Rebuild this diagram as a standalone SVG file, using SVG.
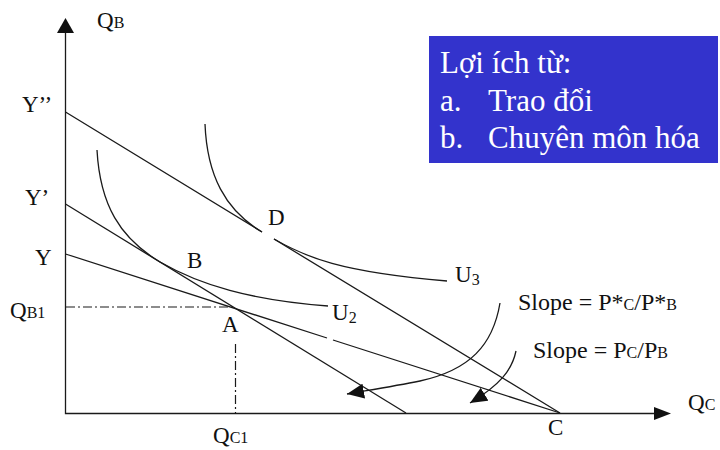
<svg xmlns="http://www.w3.org/2000/svg" width="720" height="450" viewBox="0 0 720 450">
<style>
.ln{fill:none;stroke:#1a1a1a;stroke-width:1.3}
.dd{fill:none;stroke:#1a1a1a;stroke-width:1.2;stroke-dasharray:9 3 2 3}
.t{font-family:"Liberation Serif","Times New Roman",serif;font-size:23px;fill:#111}
.s{font-size:16px}
.sl{font-size:24px}
.bx{font-family:"Liberation Serif","Times New Roman",serif;font-size:31px;fill:#fff}
</style>
<defs>
<marker id="ah" viewBox="0 0 17 15" refX="17" refY="7.5" markerWidth="17" markerHeight="15" markerUnits="userSpaceOnUse" orient="auto">
<path d="M0,0 L17,7.5 L0,15 z" fill="#111"/>
</marker>
</defs>
<rect width="720" height="450" fill="#fff"/>
<g id="axes">
<path class="ln" d="M65.5,33 V413.5 H655"/>
<polygon points="65.5,18 57,33 74,33" fill="#111"/>
<polygon points="671,413.5 654,407 654,420" fill="#111"/>
<text class="t" x="97" y="28">Q<tspan class="s">B</tspan></text>
<text class="t" x="688" y="410">Q<tspan class="s">C</tspan></text>
</g>
<g id="connectors">
<path class="ln" d="M65.5,112 L262,232 M274,239 L560,413"/>
<path class="ln" d="M65.5,204 L406,413"/>
<path class="ln" d="M65.5,254 L327,338 M333,340 L560,413"/>
<path class="dd" d="M66,307 H233"/>
<path class="dd" d="M235.5,344 V413"/>
<path class="ln" d="M500,303 C493,345 470,370 420,381 C395,386 370,390 347,394" marker-end="url(#ah)"/>
<path class="ln" d="M516,351 C512,370 500,385 470,403" marker-end="url(#ah)"/>
</g>
<g id="U2">
<path class="ln" d="M97,150 C100,205 120,238 160,262 C200,285 250,300 328,306"/>
<text class="t" x="332" y="320">U<tspan class="s" dy="3">2</tspan></text>
</g>
<g id="U3">
<path class="ln" d="M205,124 C207,175 225,210 262,232"/>
<path class="ln" d="M274,239 C305,257 340,272 447,281"/>
<text class="t" x="455" y="282">U<tspan class="s" dy="3">3</tspan></text>
</g>
<g id="labels">
<text class="t" x="22" y="112">Y’’</text>
<text class="t" x="25" y="205">Y’</text>
<text class="t" x="35" y="265">Y</text>
<text class="t" x="10" y="318">Q<tspan class="s">B1</tspan></text>
<text class="t" x="213" y="443">Q<tspan class="s">C1</tspan></text>
<text class="t" x="222" y="332">A</text>
<text class="t" x="187" y="268">B</text>
<text class="t" x="268" y="225">D</text>
<text class="t" x="548" y="435">C</text>
<text class="t sl" x="518" y="310">Slope = P*<tspan class="s">C</tspan>/P*<tspan class="s">B</tspan></text>
<text class="t sl" x="533" y="358">Slope = P<tspan class="s">C</tspan>/P<tspan class="s">B</tspan></text>
</g>
<g id="benefits">
<rect x="429" y="36" width="289" height="127" fill="#3333cc"/>
<text class="bx" x="440" y="73">Lợi ích từ:</text>
<text class="bx" x="440" y="111">a.</text>
<text class="bx" x="488" y="111">Trao đổi</text>
<text class="bx" x="440" y="148">b.</text>
<text class="bx" x="488" y="148">Chuyên môn hóa</text>
</g>
</svg>
